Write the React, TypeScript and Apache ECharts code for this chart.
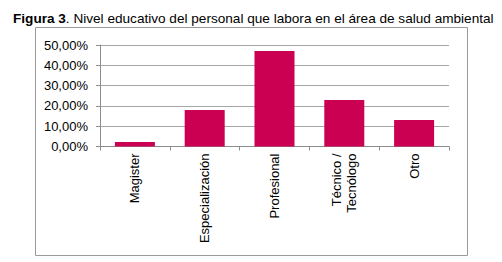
import React, { useEffect, useRef } from "react";
import * as echarts from "echarts";

const categories = ["Magister", "Especialización", "Profesional", "Técnico /\nTecnólogo", "Otro"];
const values = [2.2, 18.0, 47.0, 22.9, 13.0];
const yTicks = { min: 0, max: 50, interval: 10 };
const titleBold = "Figura 3";
const titleRest = ". Nivel educativo del personal que labora en el área de salud ambiental";

const FONT = "'Liberation Sans', Arial, sans-serif";

export default function App() {
  const ref = useRef<HTMLDivElement>(null);
  useEffect(() => {
    if (!ref.current) return;
    const chart = echarts.init(ref.current, null, { renderer: "svg" });
    chart.setOption({
      animation: false,
      backgroundColor: "#ffffff",
      textStyle: { fontFamily: FONT },
      title: {
        text: `{b|${titleBold}}{n|${titleRest}}`,
        left: 8,
        top: 5,
        textStyle: {
          rich: {
            b: { fontFamily: FONT, fontSize: 13.6, fontWeight: "bold", color: "#000", lineHeight: 16 },
            n: { fontFamily: FONT, fontSize: 13.6, fontWeight: "normal", color: "#000", lineHeight: 16 },
          },
        },
      },
      graphic: [
        {
          type: "rect",
          shape: { x: 35.5, y: 27.5, width: 432, height: 228 },
          style: { fill: "none", stroke: "#9a9a9a", lineWidth: 1 },
          silent: true,
        },
      ],
      grid: { left: 100, right: 53, top: 45, bottom: 115.5, containLabel: false },
      xAxis: {
        type: "category",
        data: categories,
        axisLine: { show: true, lineStyle: { color: "#8c8c8c", width: 1 } },
        axisTick: { show: true, length: 4, alignWithLabel: false, lineStyle: { color: "#8c8c8c" } },
        axisLabel: {
          rotate: 90,
          interval: 0,
          margin: 7,
          fontFamily: FONT,
          fontSize: 13,
          color: "#000",
          lineHeight: 15,
        },
      },
      yAxis: {
        type: "value",
        min: yTicks.min,
        max: yTicks.max,
        interval: yTicks.interval,
        axisLine: { show: true, lineStyle: { color: "#8c8c8c", width: 1 } },
        axisTick: { show: true, length: 4, lineStyle: { color: "#8c8c8c" } },
        splitLine: { show: true, lineStyle: { color: "#a6a6a6", width: 1 } },
        axisLabel: {
          margin: 12,
          fontFamily: FONT,
          fontSize: 13,
          color: "#000",
          formatter: (v: number) => v.toFixed(2).replace(".", ",") + "%",
        },
      },
      series: [
        {
          type: "bar",
          data: values,
          barWidth: 40,
          itemStyle: { color: "#cc0052" },
        },
      ],
    });
    return () => chart.dispose();
  }, []);
  return (
    <div
      ref={ref}
      style={{ position: "fixed", left: 0, top: 0, width: 502, height: 262, background: "#fff" }}
    />
  );
}
